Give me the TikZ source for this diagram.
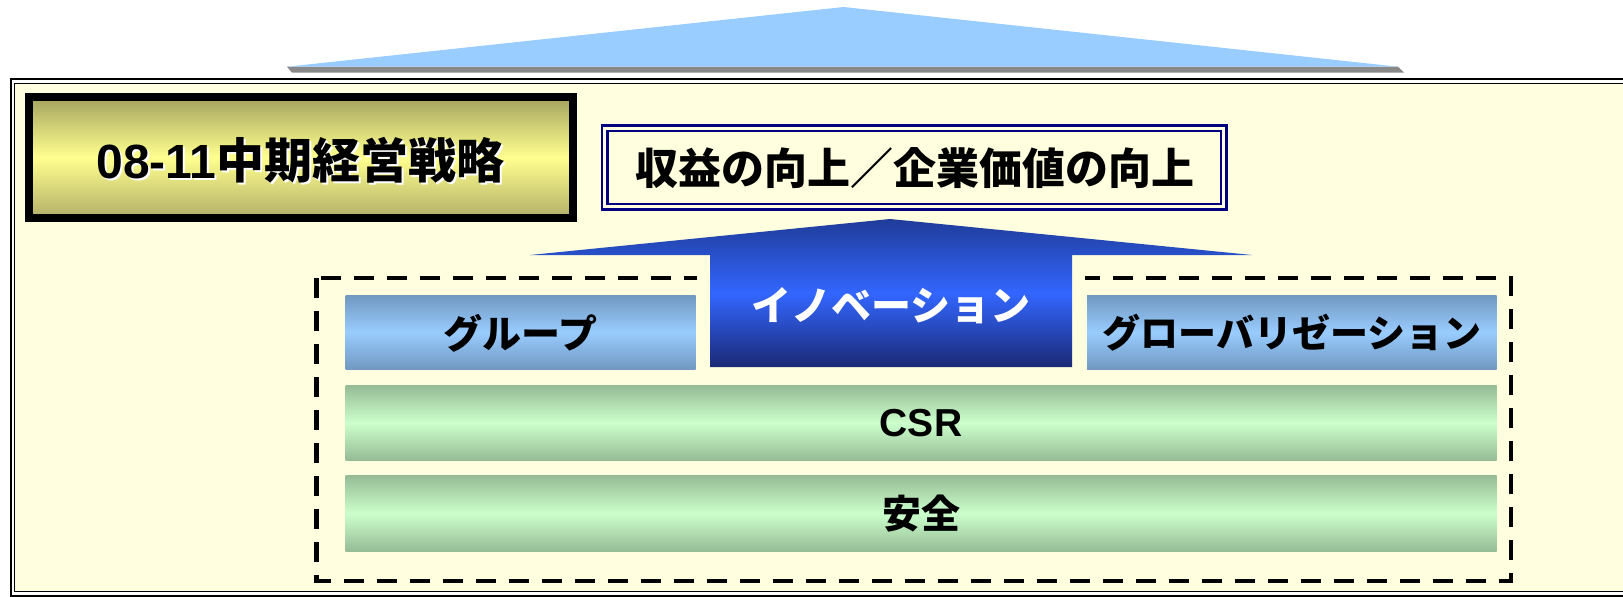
\documentclass[tikz,border=0pt]{standalone}
\usepackage{fontspec}
\setmainfont{Liberation Sans}
\newfontfamily\jp{Noto Sans CJK JP}
\definecolor{bgcream}{HTML}{FFFFDF}
\definecolor{skyblue}{HTML}{99CCFF}
\definecolor{shadowgray}{HTML}{888888}
\definecolor{goldtop}{HTML}{A3A35E}
\definecolor{goldmid}{HTML}{FFFF8F}
\definecolor{goldbot}{HTML}{B3B068}
\definecolor{navy}{HTML}{000080}
\definecolor{btop}{HTML}{1F3C99}
\definecolor{bmid}{HTML}{3366FF}
\definecolor{bbot}{HTML}{1A2A75}
\definecolor{lbedge}{HTML}{7098C0}
\definecolor{lbmid}{HTML}{99CCFF}
\definecolor{gredge}{HTML}{95BB95}
\definecolor{grmid}{HTML}{CCFFCC}
\tikzset{
  lightbar/.style={top color=lbedge, bottom color=lbedge, middle color=lbmid, draw=none},
  greenbar/.style={top color=gredge, bottom color=gredge, middle color=grmid, draw=none},
  goldbox/.style={top color=goldtop, bottom color=goldbot, middle color=goldmid, draw=black, line width=4pt},
  innoshape/.style={top color=btop, bottom color=bbot, middle color=bmid, draw=none},
  navyline/.style={draw=navy, line width=1.2pt},
  barlabel/.style={inner sep=0pt, font=\jp\bfseries\fontsize{19.5}{22}\selectfont},
  dashframe/.style={draw=black, line width=2.3pt, dash pattern=on 10pt off 6.5pt},
}
\begin{document}
\begin{tikzpicture}[x=0.5pt,y=-0.5pt]
\useasboundingbox (0,0) rectangle (1623,596);
\begin{scope}
\clip (0,0) rectangle (1623,596);
% top light blue arrowhead with grey edge
\fill[shadowgray] (287,66.7) -- (1398,66.7) -- (1404,72.7) -- (292,72.7) -- cycle;
\fill[skyblue] (843.5,7) -- (1398,66.7) -- (287,66.7) -- cycle;
% outer frame
\draw[line width=1pt] (11,79) rectangle (1640,595.5);
\draw[line width=0.75pt, fill=bgcream] (14.7,83.5) rectangle (1636,591.3);
% title box
\path[goldbox] (29,97) rectangle (572.5,217.5);
\node[text=white, inner sep=0pt, font=\fontsize{24}{28}\selectfont] at (302.5,162.5)
  {\bfseries 08-11{\jp\bfseries 中期経営戦略}};
\node (title) [inner sep=0pt, font=\fontsize{24}{28}\selectfont] at (300.5,160)
  {\bfseries 08-11{\jp\bfseries 中期経営戦略}};
% revenue box
\draw[navyline] (602,125.5) rectangle (1226.5,209.3);
\draw[navyline] (607.5,130.7) rectangle (1221,204.2);
\node (goal) [inner sep=0pt, font=\jp\bfseries\fontsize{21.5}{24}\selectfont] at (914.5,168) {収益の向上／企業価値の向上};
% dashed frame
\draw[dashframe] (316.7,278) rectangle (1511,581);
\fill[bgcream] (697,268) rectangle (1085,288);
% innovation arrow
\path[innoshape] (890,219) -- (1252,255) -- (1072,255) -- (1072,367) -- (710,367) -- (710,255) -- (530,255) -- cycle;
\node (inno) [inner sep=0pt, text=white, font=\jp\bfseries\fontsize{20}{22}\selectfont] at (891,306) {イノベーション};
% bars
\path[lightbar] (345.7,295) rectangle (695.5,369.5);
\node (group) [barlabel] at (520.6,333) {グループ};
\path[lightbar] (1087,295) rectangle (1496.6,369.5);
\node (global) [barlabel, font=\jp\bfseries\fontsize{19}{22}\selectfont] at (1291.8,333) {グローバリゼーション};
\path[greenbar] (345.7,385) rectangle (1496.6,460.5);
\node (csr) [inner sep=0pt, font=\bfseries\fontsize{19.5}{22}\selectfont] at (921,423) {CSR};
\path[greenbar] (345.7,475) rectangle (1496.6,551.7);
\node (safety) [barlabel] at (921,513.5) {安全};
\end{scope}
\end{tikzpicture}
\end{document}
